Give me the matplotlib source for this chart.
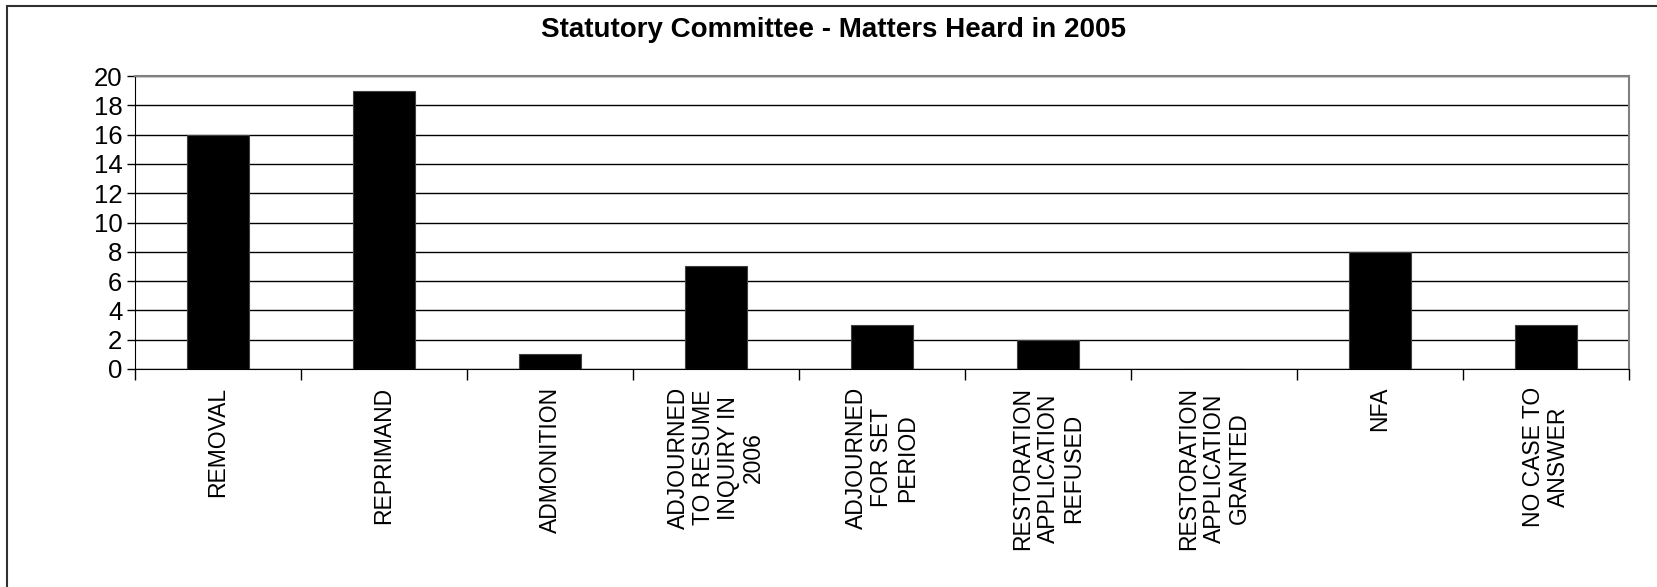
import numpy as np
import matplotlib
matplotlib.use("Agg")
import matplotlib.pyplot as plt
from matplotlib.patches import Rectangle

categories = [
    "REMOVAL",
    "REPRIMAND",
    "ADMONITION",
    "ADJOURNED\nTO RESUME\nINQUIRY IN\n2006",
    "ADJOURNED\nFOR SET\nPERIOD",
    "RESTORATION\nAPPLICATION\nREFUSED",
    "RESTORATION\nAPPLICATION\nGRANTED",
    "NFA",
    "NO CASE TO\nANSWER",
]
matters = [16, 19, 1, 7, 3, 2, 0, 8, 3]
y_ticks = list(range(0, 21, 2))
title = "Statutory Committee - Matters Heard in 2005"

plt.rcParams['font.family'] = ['Liberation Sans', 'DejaVu Sans']

fig = plt.figure(figsize=(16.58, 5.87), dpi=100)
ax = fig.add_axes([0.0814, 0.3714, 0.9011, 0.4991])

x = np.arange(len(categories))
ax.bar(x, matters, width=0.37, color="black", edgecolor="#404040", linewidth=0.8, zorder=3)

ax.set_xlim(-0.5, len(categories) - 0.5)
ax.set_ylim(0, 20)
ax.set_yticks(y_ticks)
ax.set_yticklabels([str(v) for v in y_ticks], fontsize=18.5)
ax.tick_params(axis="y", direction="out", length=6, width=1, pad=3)

# category boundaries as ticks, labels in the middle
ax.set_xticks(np.arange(len(categories) + 1) - 0.5)
ax.set_xticklabels([])
ax.tick_params(axis="x", direction="out", length=8, width=1)
for i, lab in enumerate(categories):
    ax.text(i, -1.2, lab, rotation=90, ha="center", va="top", ma="center",
            fontsize=16.5, linespacing=1.12, transform=ax.transData)

ax.yaxis.grid(True, color="black", linewidth=1, zorder=0)
ax.set_axisbelow(True)
ax.spines["top"].set_color("#808080")
ax.spines["right"].set_color("#808080")
ax.spines["top"].set_linewidth(1.5)
ax.spines["right"].set_linewidth(1.5)
ax.spines["left"].set_color("black")
ax.spines["bottom"].set_color("black")

fig.text(0.5026, 0.949, title, ha="center", va="center", fontsize=20, fontweight="bold")

# outer chart border
fig.patches.append(Rectangle((7 / 1658, -0.05), 1.05, 1 - 6 / 587 + 0.05,
                             transform=fig.transFigure, fill=False,
                             edgecolor="#303030", linewidth=1.5))

fig.savefig("out.png", dpi=100)
